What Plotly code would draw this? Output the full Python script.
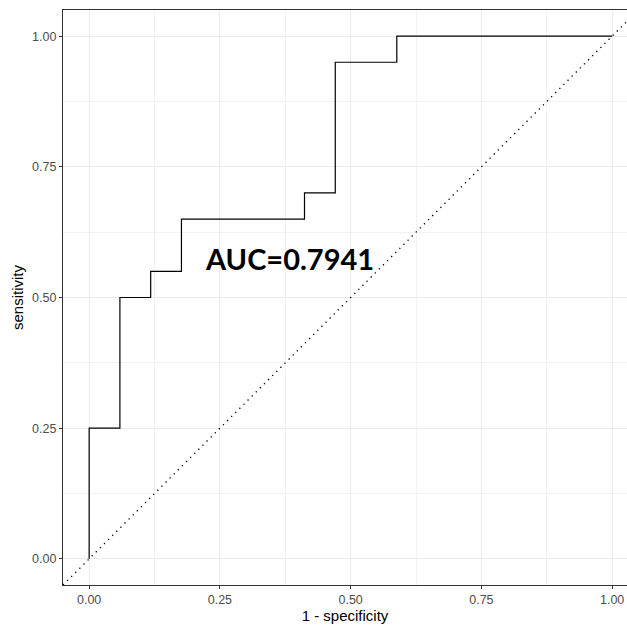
import plotly.graph_objects as go

# ROC curve step breakpoints (1 - specificity, sensitivity)
fpr = [0.0, 0.0, 1/17, 2/17, 3/17, 7/17, 8/17, 10/17, 1.0]
tpr = [0.0, 0.25, 0.50, 0.55, 0.65, 0.70, 0.95, 1.0, 1.0]
tick_vals = [0.0, 0.25, 0.50, 0.75, 1.00]
tick_text = ["0.00", "0.25", "0.50", "0.75", "1.00"]
auc_label = "AUC=0.7941"
auc_pos = (0.384, 0.574)

fig = go.Figure()
fig.add_shape(type="line", xref="x", yref="y", x0=-0.05, y0=-0.05, x1=1.05, y1=1.05,
              line=dict(color="black", width=1.3, dash="1.3px,4.5px"), layer="above")
fig.add_trace(go.Scatter(x=fpr, y=tpr, mode="lines", line_shape="hv",
                         line=dict(color="black", width=1.2), showlegend=False))
fig.add_annotation(x=auc_pos[0], y=auc_pos[1], text="<b>" + auc_label + "</b>",
                   showarrow=False, font=dict(family="Lato, Open Sans, sans-serif", size=29, color="black"))

axis_common = dict(
    tickvals=tick_vals, ticktext=tick_text,
    showgrid=True, gridcolor="#ebebeb", gridwidth=1.1,
    minor=dict(showgrid=True, gridcolor="#f2f2f2", gridwidth=0.6, dtick=0.125, tick0=0.125),
    ticks="outside", ticklen=3, tickcolor="#333333", tickwidth=1,
    tickfont=dict(family="Liberation Sans, Arial", size=12.5, color="#4d4d4d"),
    showline=True, linecolor="#333333", linewidth=1.2,
    zeroline=False,
)

fig.update_layout(
    width=627, height=628,
    margin=dict(l=63, r=0, t=10, b=43),
    plot_bgcolor="white", paper_bgcolor="white",
    xaxis=dict(range=[-0.05, -0.05 + 564/523], mirror=True,
               title=dict(text="1 - specificity", standoff=3,
                          font=dict(family="Liberation Sans, Arial", size=15, color="black")),
               **axis_common),
    yaxis=dict(range=[-0.05, 1.05],
               title=dict(text="sensitivity", standoff=4,
                          font=dict(family="Liberation Sans, Arial", size=15, color="black")),
               **axis_common),
)

fig.write_html("out.html")
